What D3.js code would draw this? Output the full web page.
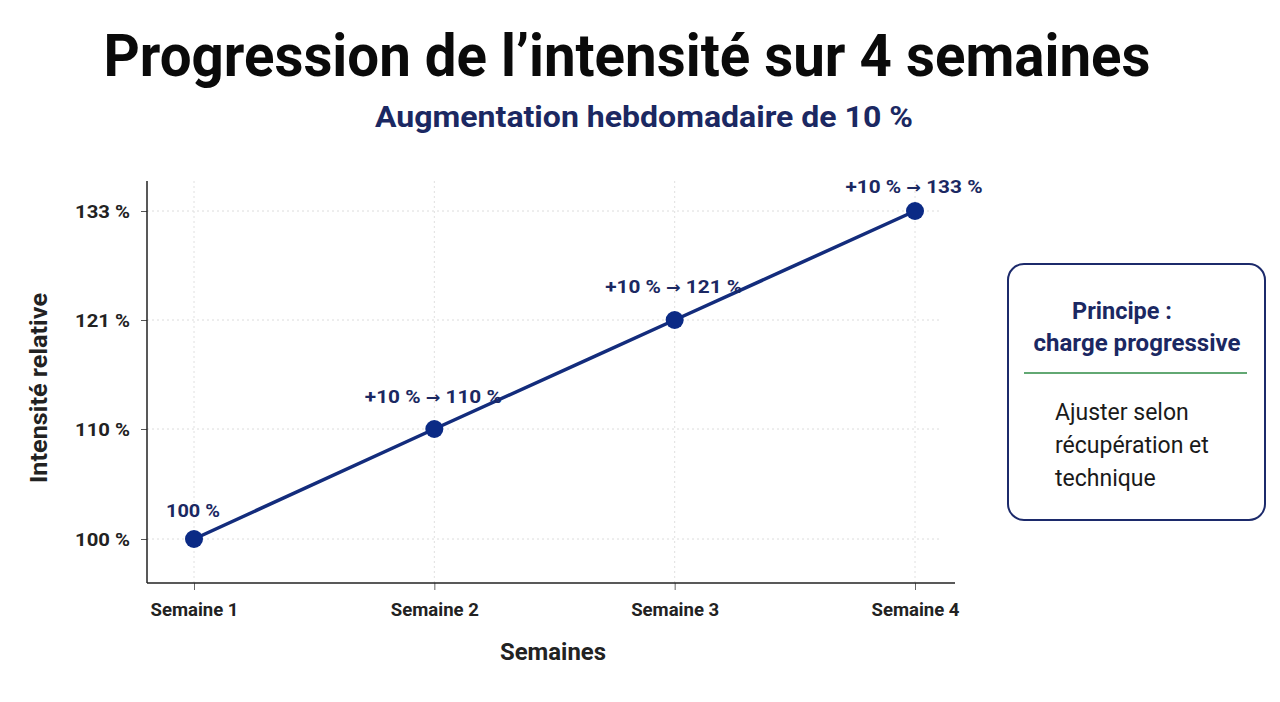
<!DOCTYPE html>
<html>
<head>
<meta charset="utf-8">
<script src="https://cdn.jsdelivr.net/npm/d3@7"></script>
<style>
  body { margin: 0; background: #fff; }
  text { font-family: Roboto, "Liberation Sans", sans-serif; }
</style>
</head>
<body>
<svg id="chart" width="1280" height="702"></svg>
<script>
const weeks = ['Semaine 1', 'Semaine 2', 'Semaine 3', 'Semaine 4'];
const intensity = [100, 110, 121, 133];
const pointLabels = ['100 %', '+10 % → 110 %', '+10 % → 121 %', '+10 % → 133 %'];
const yTicks = [100, 110, 121, 133];
const yTickLabels = ['100 %', '110 %', '121 %', '133 %'];
const boxTitle = ['Principe :', 'charge progressive'];
const boxBody = ['Ajuster selon', 'récupération et', 'technique'];

const navy = '#132c7c';
const svg = d3.select('#chart');

// title
svg.append('text')
    .attr('x', 627).attr('y', 76)
    .attr('text-anchor', 'middle')
    .attr('textLength', 1047).attr('lengthAdjust', 'spacingAndGlyphs')
    .style('font-size', '60px').style('font-weight', 700).style('fill', '#0a0a0a')
    .text('Progression de l’intensité sur 4 semaines');

svg.append('text')
    .attr('x', 644).attr('y', 127)
    .attr('text-anchor', 'middle')
    .attr('textLength', 538).attr('lengthAdjust', 'spacingAndGlyphs')
    .style('font-size', '29px').style('font-weight', 700).style('fill', '#1b2862')
    .text('Augmentation hebdomadaire de 10 %');

const x = d3.scalePoint().domain(weeks).range([194, 915]);
// ticks are evenly spaced, so the scale is piecewise
const y = d3.scaleLinear().domain(yTicks).range([539, 429, 320, 211]);

const plotL = 147, plotR = 955, plotT = 181, plotB = 583;

// grid
svg.append('g').selectAll('line')
    .data(yTicks).join('line')
    .attr('x1', plotL).attr('x2', 942)
    .attr('y1', d => y(d)).attr('y2', d => y(d))
    .attr('stroke', '#dcdcdc').attr('stroke-width', 1).attr('stroke-dasharray', '2,3');
svg.append('g').selectAll('line')
    .data(weeks).join('line')
    .attr('x1', d => x(d)).attr('x2', d => x(d))
    .attr('y1', plotT).attr('y2', plotB)
    .attr('stroke', '#e0e0e0').attr('stroke-width', 1).attr('stroke-dasharray', '2,3');

// axes
const yAxis = svg.append('g')
    .attr('transform', `translate(${plotL},0)`)
    .call(d3.axisLeft(y).tickValues(yTicks).tickFormat((d, i) => yTickLabels[i]).tickSize(6).tickPadding(11));
yAxis.select('.domain').remove();
yAxis.selectAll('.tick line').attr('stroke', '#555');
yAxis.selectAll('.tick text')
    .style('font-size', '19px').style('font-weight', 700).style('fill', '#222')
    .style('font-family', 'Roboto, sans-serif')
    .attr('textLength', 55).attr('lengthAdjust', 'spacingAndGlyphs');

const xAxis = svg.append('g')
    .attr('transform', `translate(0,${plotB})`)
    .call(d3.axisBottom(x).tickSize(7).tickPadding(13));
xAxis.select('.domain').remove();
xAxis.selectAll('.tick line').attr('stroke', '#666');
xAxis.selectAll('.tick text')
    .style('font-size', '19px').style('font-weight', 700).style('fill', '#222')
    .style('font-family', 'Roboto, sans-serif')
    .attr('textLength', 88).attr('lengthAdjust', 'spacingAndGlyphs');

svg.append('line')
    .attr('x1', plotL).attr('x2', plotL).attr('y1', plotT).attr('y2', plotB)
    .attr('stroke', '#222').attr('stroke-width', 1.5);
svg.append('line')
    .attr('x1', plotL).attr('x2', plotR).attr('y1', plotB).attr('y2', plotB)
    .attr('stroke', '#222').attr('stroke-width', 1.5);

// axis titles
svg.append('text')
    .attr('transform', 'translate(47,388) rotate(-90)')
    .attr('text-anchor', 'middle')
    .attr('textLength', 190).attr('lengthAdjust', 'spacingAndGlyphs')
    .style('font-size', '23px').style('font-weight', 700).style('fill', '#222')
    .text('Intensité relative');
svg.append('text')
    .attr('x', 553).attr('y', 660)
    .attr('text-anchor', 'middle')
    .attr('textLength', 106).attr('lengthAdjust', 'spacingAndGlyphs')
    .style('font-size', '23px').style('font-weight', 700).style('fill', '#222')
    .text('Semaines');

// line + points
const data = weeks.map((w, i) => ({ week: w, value: intensity[i], label: pointLabels[i] }));

svg.append('path')
    .datum(data)
    .attr('fill', 'none')
    .attr('stroke', navy).attr('stroke-width', 3.5)
    .attr('d', d3.line().x(d => x(d.week)).y(d => y(d.value)).curve(d3.curveMonotoneX));

svg.append('g').selectAll('circle')
    .data(data).join('circle')
    .attr('cx', d => x(d.week)).attr('cy', d => y(d.value))
    .attr('r', 9)
    .attr('fill', '#0b2a85');

const labelDy = [22, 26, 27, 18];
const lbl = svg.append('g').selectAll('text')
    .data(data).join('text')
    .attr('x', d => x(d.week) - 1).attr('y', (d, i) => y(d.value) - labelDy[i])
    .attr('text-anchor', 'middle')
    .attr('textLength', d => d.label.includes('→') ? 137 : 54).attr('lengthAdjust', 'spacingAndGlyphs')
    .style('font-size', '19px').style('font-weight', 700).style('fill', '#1b2862');
lbl.each(function (d) {
    const parts = d.label.split('→');
    const t = d3.select(this);
    t.append('tspan').text(parts[0]);
    if (parts.length > 1) {
        t.append('tspan').style('font-family', '"DejaVu Sans", sans-serif').style('font-size', '16px').text('→');
        t.append('tspan').text(parts[1]);
    }
});

// side box
const box = svg.append('g');
box.append('rect')
    .attr('x', 1008).attr('y', 264).attr('width', 257).attr('height', 256)
    .attr('rx', 16)
    .attr('fill', '#fff').attr('stroke', '#1c2a6b').attr('stroke-width', 2);
box.selectAll('.bt')
    .data(boxTitle).join('text')
    .attr('class', 'bt')
    .attr('x', (d, i) => i === 0 ? 1122 : 1137)
    .attr('y', (d, i) => 319 + i * 32)
    .attr('text-anchor', 'middle')
    .attr('textLength', (d, i) => i === 0 ? 100 : 207).attr('lengthAdjust', 'spacingAndGlyphs')
    .style('font-size', '23px').style('font-weight', 700).style('fill', '#1b2862')
    .text(d => d);
box.append('line')
    .attr('x1', 1024).attr('x2', 1247).attr('y1', 373).attr('y2', 373)
    .attr('stroke', '#2e8b45').attr('stroke-width', 1.5);
box.selectAll('.bb')
    .data(boxBody).join('text')
    .attr('class', 'bb')
    .attr('x', 1055)
    .attr('y', (d, i) => 420 + i * 33)
    .style('font-size', '23px').style('font-weight', 400).style('fill', '#1a1a1a')
    .text(d => d);
</script>
</body>
</html>
